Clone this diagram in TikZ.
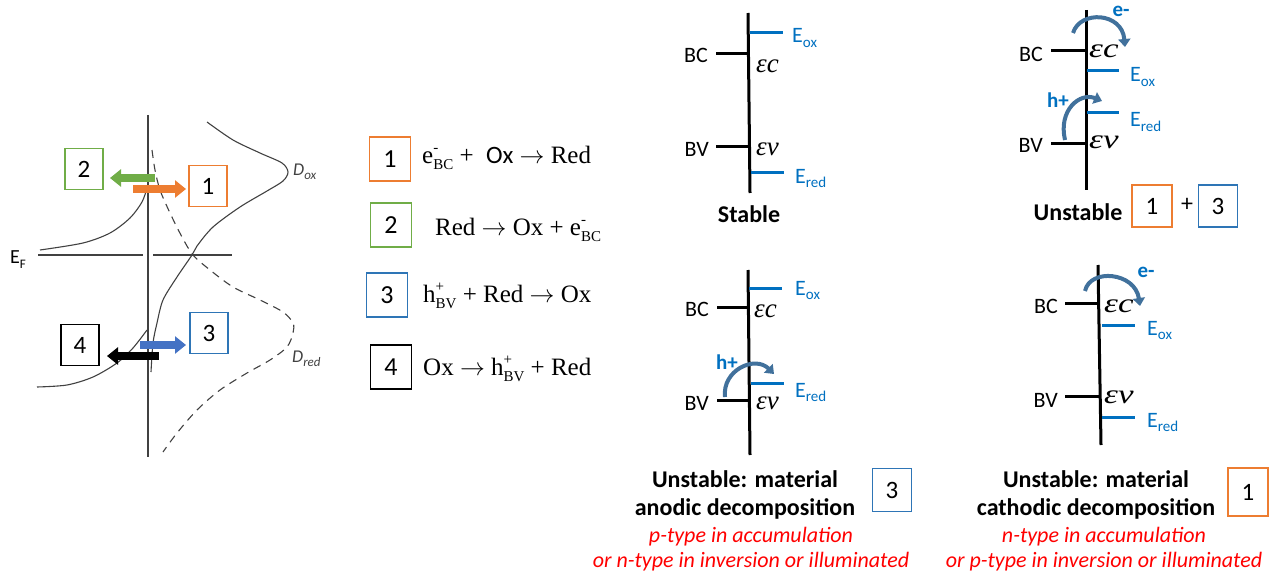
\documentclass[tikz,border=0pt]{standalone}
\usepackage{fontspec}
\usepackage{graphicx}
\setmainfont{Carlito}
\newfontfamily\eqfont{Liberation Serif}
\usetikzlibrary{arrows.meta}

\definecolor{orangeb}{RGB}{237,125,49}
\definecolor{vertb}{RGB}{112,173,71}
\definecolor{bleub}{RGB}{46,117,182}
\definecolor{bleuf}{RGB}{68,114,196}
\definecolor{bleun}{RGB}{0,112,192}
\definecolor{bleuc}{RGB}{65,113,156}
\definecolor{crayon}{RGB}{65,65,65}
\definecolor{rouge}{RGB}{255,0,0}

\newcommand{\taille}[1]{\fontsize{#1}{#1}\selectfont}
\newcommand{\ind}[1]{\raisebox{-0.22em}{\taille{15}#1}}
\newcommand{\supind}[2]{\rlap{\raisebox{0.42em}{\taille{15}#1}}\raisebox{-0.25em}{\taille{15}#2}}
\newcommand{\niv}[1]{{\eqfont\itshape ε#1}}

\begin{document}
\begin{tikzpicture}[x=1pt, y=-1pt,
  trait/.style={draw=crayon, line width=1.1pt},
  grosse/.style={line width=8pt, -{Triangle[length=11pt,width=17pt]}},
  boite/.style={draw, line width=1.2pt, minimum width=38pt, minimum height=41pt, inner sep=0pt, font=\taille{25}},
  eqboite/.style={boite, minimum width=41pt, minimum height=44pt, font=\taille{26}},
  equation/.style={anchor=base west, inner sep=0pt, font=\eqfont\taille{25}},
  bande/.style={line width=3pt},
  niveau/.style={draw=bleun, line width=3pt},
  saut/.style={draw=bleuc, line width=4pt, -{Triangle[length=8pt,width=12pt]}},
  nom/.style={anchor=base east, inner sep=0pt, font=\taille{22}},
  energie/.style={anchor=base west, inner sep=0pt, text=bleun, font=\taille{22}},
  epsilon/.style={anchor=base west, inner sep=0pt, font=\taille{27}},
  porteur/.style={inner sep=0pt, text=bleun, font=\bfseries\taille{21}},
  titre/.style={anchor=base, inner sep=0pt, align=center, font=\bfseries\taille{24}},
  remarque/.style={anchor=base, inner sep=0pt, align=center, text=rouge, font=\itshape\taille{22}}]

  \useasboundingbox (0,0) rectangle (1276,575);

  % Le schema de gauche
  \draw[trait] (148,115) -- (148,457);
  \draw[trait] (38,255) -- (143,255);
  \draw[trait] (153,255) -- (232,255);
  \draw[trait] plot[smooth] coordinates {(40,250) (83,243) (110,233) (130,218) (142,202) (147,188)};
  \draw[trait] plot[smooth] coordinates {(37,387) (67,385) (93,377) (117,363) (133,348) (147,330)};
  \draw[trait] plot[smooth] coordinates {(207,122) (233,140) (260,153) (282,163) (288,172) (283,181) (267,191) (240,207) (213,227) (197,246) (192,255) (177,277) (163,300) (157,323) (153,343) (151,372)};
  \draw[trait, dash pattern=on 8pt off 6pt] plot[smooth] coordinates {(152,150) (155,170) (160,190) (170,213) (182,237) (193,255) (210,270) (233,287) (260,300) (283,312) (293,323) (293,333) (287,347) (270,360) (247,373) (220,390) (197,410) (177,433) (163,452)};

  \node[anchor=base west, inner sep=0pt, font=\taille{20}] (ef) at (10,263) {E\raisebox{-0.25em}{\taille{13}F}};
  \node[anchor=west, inner sep=0pt, text=crayon, font=\itshape\taille{18}] (dox) at (293,172) {D\raisebox{-0.2em}{\taille{13}ox}};
  \node[anchor=west, inner sep=0pt, text=crayon, font=\itshape\taille{18}] (dred) at (292,359) {D\raisebox{-0.2em}{\taille{13}red}};

  % Les fleches
  \coordinate (v1) at (155,178); \coordinate (v2) at (110,178);
  \coordinate (o1) at (133,189); \coordinate (o2) at (186,189);
  \coordinate (n1) at (159,356); \coordinate (n2) at (107,356);
  \coordinate (c1) at (140,345); \coordinate (c2) at (186,345);
  \draw[grosse, vertb] (v1) -- (v2);
  \draw[grosse, orangeb] (o1) -- (o2);
  \draw[grosse, black] (n1) -- (n2);
  \draw[grosse, bleuf] (c1) -- (c2);

  \node[boite, draw=vertb] (b2) at (84,169) {2};
  \node[boite, draw=orangeb] (b1) at (208,186) {1};
  \node[boite, draw=bleub] (b3) at (209,333) {3};
  \node[boite] (b4) at (80,345) {4};

  % Les reactions
  \node[eqboite, draw=orangeb] (r1) at (390,159) {1};
  \node[eqboite, draw=vertb] (r2) at (391,225) {2};
  \node[eqboite, draw=bleub] (r3) at (387,295) {3};
  \node[eqboite] (r4) at (391,367) {4};
  \node[equation] (eq1) at (422,163) {e\supind{-}{BC}\ +\ \ {\normalfont Ox} $\rightarrow$ Red};
  \node[equation] (eq2) at (435,235) {Red $\rightarrow$ Ox + e\supind{-}{BC}};
  \node[equation] (eq3) at (423,302) {h\supind{+}{BV} + Red $\rightarrow$ Ox};
  \node[equation] (eq4) at (423,375) {Ox $\rightarrow$ h\supind{+}{BV} + Red};

  % Stable
  \draw[bande] (748,13) -- (750,193);
  \draw[bande] (716,54) -- (748,54);
  \draw[bande] (716,146) -- (748,146);
  \draw[niveau] (750,33) -- (783,33);
  \draw[niveau] (751,172) -- (784,172);
  \node[nom] (bcA) at (708,63) {BC};
  \node[nom] (bvA) at (709,157) {BV};
  \node[energie] (eoxA) at (792,43) {E\ind{ox}};
  \node[energie] (eredA) at (795,183) {E\ind{red}};
  \node[epsilon] (ecA) at (756,73) {\niv{c}};
  \node[epsilon] (evA) at (756,155) {\niv{v}};
  \node[titre] (stable) at (749,222) {Stable};

  % Instable 1 + 3
  \draw[bande] (1086,10) -- (1086,190);
  \draw[bande] (1051,51) -- (1086,51);
  \draw[bande] (1051,143) -- (1086,143);
  \draw[niveau] (1087,71) -- (1119,71);
  \draw[niveau] (1087,113) -- (1119,113);
  \node[nom] (bcB) at (1043,62) {BC};
  \node[nom] (bvB) at (1043,153) {BV};
  \node[energie] (eoxB) at (1130,82) {E\ind{ox}};
  \node[energie] (eredB) at (1130,127) {E\ind{red}};
  \node[epsilon] (ecB) at (1089,58) {\scalebox{1.3}[1]{\niv{c}}};
  \node[epsilon] (evB) at (1089,148) {\scalebox{1.3}[1]{\niv{v}}};
  \draw[saut] (1073,33) .. controls (1080,10) and (1122,12) .. (1125,47);
  \draw[saut] (1065,140) .. controls (1058,110) and (1080,92) .. (1102,101);
  \node[porteur] (eB) at (1121,11) {e-};
  \node[porteur] (hB) at (1058,100) {h+};
  \node[titre] (instB) at (1078,220) {Unstable};
  \node[boite, draw=orangeb, minimum width=40pt, minimum height=42pt] (sB1) at (1152,206) {1};
  \node[inner sep=0pt, font=\taille{24}] (plus) at (1187,205) {+};
  \node[boite, draw=bleub, minimum width=39pt, minimum height=42pt] (sB3) at (1218,206) {3};

  % Instable : decomposition anodique
  \draw[bande] (748,270) -- (750,455);
  \draw[bande] (717,307) -- (748,307);
  \draw[bande] (717,400) -- (748,400);
  \draw[niveau] (749,288) -- (782,288);
  \draw[niveau] (751,383) -- (784,383);
  \node[nom] (bcC) at (709,316) {BC};
  \node[nom] (bvC) at (709,410) {BV};
  \node[energie] (eoxC) at (795,295) {E\ind{ox}};
  \node[energie] (eredC) at (795,397) {E\ind{red}};
  \node[epsilon] (ecC) at (754,317) {\niv{c}};
  \node[epsilon] (evC) at (756,409) {\niv{v}};
  \draw[saut] (725,397) .. controls (722,370) and (755,355) .. (774,374);
  \node[porteur] (hC) at (727,362) {h+};
  \node[titre] (instC) at (745,515) {Unstable: material\\[4pt]anodic decomposition};
  \node[boite, draw=bleub, minimum width=39pt, minimum height=43pt] (sC3) at (892,490) {3};
  \node[remarque] (remC) at (751,567) {p-type in accumulation\\[3pt]or n-type in inversion or illuminated};

  % Instable : decomposition cathodique
  \draw[bande] (1098,265) -- (1101,445);
  \draw[bande] (1065,303) -- (1099,303);
  \draw[bande] (1065,396) -- (1099,396);
  \draw[niveau] (1102,325) -- (1135,325);
  \draw[niveau] (1102,417) -- (1135,417);
  \node[nom] (bcD) at (1058,313) {BC};
  \node[nom] (bvD) at (1058,407) {BV};
  \node[energie] (eoxD) at (1147,335) {E\ind{ox}};
  \node[energie] (eredD) at (1147,427) {E\ind{red}};
  \node[epsilon] (ecD) at (1104,312) {\scalebox{1.3}[1]{\niv{c}}};
  \node[epsilon] (evD) at (1104,403) {\scalebox{1.3}[1]{\niv{v}}};
  \draw[saut] (1085,291) .. controls (1090,268) and (1135,272) .. (1140,306);
  \node[porteur] (eD) at (1146,272) {e-};
  \node[titre] (instD) at (1096,515) {Unstable: material\\[4pt]cathodic decomposition};
  \node[boite, draw=orangeb, minimum width=40pt, minimum height=48pt] (sD1) at (1248,492) {1};
  \node[remarque] (remD) at (1104,567) {n-type in accumulation\\[3pt]or p-type in inversion or illuminated};
\end{tikzpicture}
\end{document}
